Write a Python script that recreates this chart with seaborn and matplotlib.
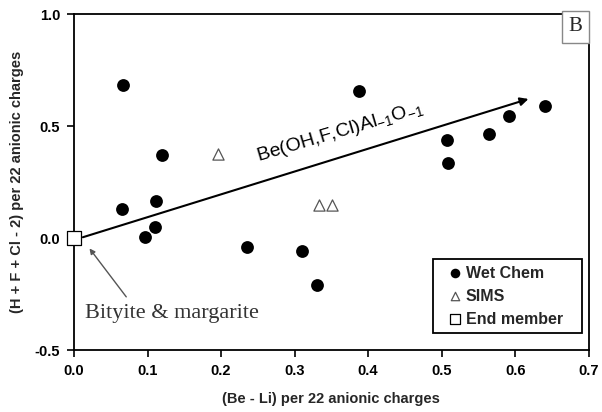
import matplotlib
matplotlib.use("Agg")
import matplotlib.pyplot as plt
from matplotlib.patches import Rectangle
import seaborn as sns
import pandas as pd

# Wet-chemical analyses
wet_x = [0.066, 0.120, 0.387, 0.507, 0.509, 0.565, 0.591, 0.641,
         0.065, 0.112, 0.110, 0.096, 0.235, 0.310, 0.330]
wet_y = [0.684, 0.370, 0.657, 0.436, 0.337, 0.466, 0.546, 0.588,
         0.131, 0.166, 0.051, 0.006, -0.041, -0.058, -0.210]
# SIMS analyses
sims_x = [0.196, 0.333, 0.351]
sims_y = [0.376, 0.149, 0.149]
# Bityite & margarite end member
end_x = [0.0]
end_y = [0.0]
# Exchange vector tip
vec_x, vec_y = 0.618, 0.621

xticks = [0.0, 0.1, 0.2, 0.3, 0.4, 0.5, 0.6, 0.7]
yticks = [-0.5, 0.0, 0.5, 1.0]

sns.set_style("ticks")
plt.rcParams["font.family"] = ["Liberation Sans", "DejaVu Sans"]
plt.rcParams["font.weight"] = "bold"

fig = plt.figure(figsize=(6.02, 4.12), dpi=100)
ax = fig.add_axes([0.123, 0.150, 0.855, 0.816])

wet = pd.DataFrame({"x": wet_x, "y": wet_y})
sims = pd.DataFrame({"x": sims_x, "y": sims_y})
end = pd.DataFrame({"x": end_x, "y": end_y})

sns.scatterplot(data=wet, x="x", y="y", ax=ax, marker="o", s=85,
                color="black", edgecolor="black", linewidth=0,
                label="Wet Chem", zorder=4)
sns.scatterplot(data=sims, x="x", y="y", ax=ax, marker="^", s=65,
                facecolor="white", edgecolor="#555555", linewidth=0.9,
                label="SIMS", zorder=4)
sns.scatterplot(data=end, x="x", y="y", ax=ax, marker="s", s=110,
                facecolor="white", edgecolor="black", linewidth=0.9,
                label="End member", zorder=6, clip_on=False)

# Exchange vector
ax.annotate("", xy=(vec_x, vec_y), xytext=(0.012, 0.004),
            arrowprops=dict(arrowstyle="-|>", color="black", lw=1.5,
                            mutation_scale=12, shrinkA=0, shrinkB=0),
            zorder=3)
ax.text(0.253, 0.318, r"Be(OH,F,Cl)Al$_{\mathregular{-1}}$O$_{\mathregular{-1}}$",
        rotation=16.5, rotation_mode="anchor", ha="left", va="bottom",
        fontsize=14, fontweight="normal", color="black")

# End-member label and pointer
ax.annotate("", xy=(0.021, -0.046), xytext=(0.071, -0.262),
            arrowprops=dict(arrowstyle="-|>", color="#555555", lw=1.0,
                            mutation_scale=8, shrinkA=0, shrinkB=0),
            zorder=3)
ax.text(0.015, -0.338, "Bityite & margarite", fontsize=16,
        family=["Liberation Serif"], fontweight="normal",
        color="#333333", ha="left", va="center")

ax.set_xlim(0.0, 0.7)
ax.set_ylim(-0.5, 1.0)
ax.set_xticks(xticks)
ax.set_yticks(yticks)
ax.set_xticklabels([f"{v:.1f}" for v in xticks])
ax.set_yticklabels([f"{v:.1f}" for v in yticks])
ax.tick_params(direction="out", length=5, width=1.2, labelsize=10.5,
               colors="black", pad=5)
for sp in ax.spines.values():
    sp.set_visible(True)
    sp.set_color("black")
    sp.set_linewidth(1.3)

ax.set_xlabel("(Be - Li) per 22 anionic charges", fontsize=10.5,
              fontweight="bold", labelpad=10)
ax.set_ylabel("(H + F + Cl - 2) per 22 anionic charges", fontsize=10.5,
              fontweight="bold", labelpad=8)

# Legend box drawn separately so its padding can be set freely
box = Rectangle((0.697, 0.05), 0.289, 0.222, transform=ax.transAxes,
                facecolor="white", edgecolor="black", linewidth=1.3,
                zorder=7)
ax.add_patch(box)
leg = ax.legend(loc="center left", bbox_to_anchor=(0.725, 0.161),
                borderaxespad=0, frameon=False,
                handletextpad=0.15, handlelength=1.0, markerscale=0.75,
                borderpad=0.0, labelspacing=0.5,
                prop={"family": "Liberation Sans", "weight": "bold",
                      "size": 11.5})
leg.set_zorder(8)

# Panel letter
ax.text(0.988, 0.99, "B", transform=ax.transAxes, ha="right", va="top",
        fontsize=15, family=["Liberation Serif"], fontweight="normal",
        bbox=dict(boxstyle="square,pad=0.3", facecolor="white",
                  edgecolor="#888888", linewidth=1.0), zorder=10,
        clip_on=False)

fig.savefig("out.png", dpi=100)
